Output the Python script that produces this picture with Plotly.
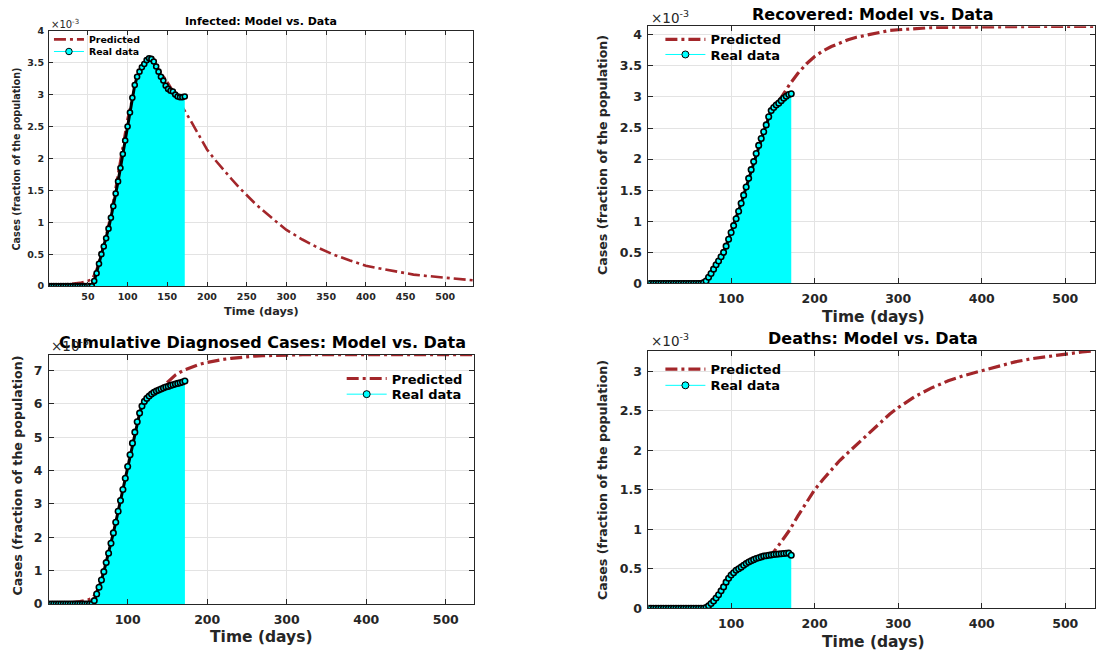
import plotly.graph_objects as go

W, H = 1096, 661
FONT = "DejaVu Sans"
RED = "#A3262A"
CYAN = "#00FFFF"
AX = "#262626"
GRID = "#E3E3E3"

# ---------------- data (values in units of 1e-3 of the population) ----------------
data_days = [1, 4, 7, 10, 13, 16, 19, 22, 25, 28, 31, 34, 37, 40, 43, 46, 49, 52, 55,
             58, 61, 64, 67, 70, 73, 76, 79, 82, 85, 88, 91, 94, 97, 100, 103, 106, 109,
             112, 115, 118, 121, 124, 127, 130, 133, 136, 139, 142, 145, 148, 151, 154,
             157, 160, 163, 166, 169, 172]

pred_days = [1, 10, 20, 30, 40, 50, 55, 60, 70, 80, 90, 100, 110, 120, 130, 140, 150,
             160, 170, 180, 190, 200, 210, 220, 230, 240, 250, 260, 270, 280, 290, 300,
             320, 340, 360, 380, 400, 420, 440, 460, 480, 500, 520, 535]

infected_real = [0, 0, 0, 0, 0, 0, 0, 0, 0, 0, 0, 0, 0, 0, 0, 0, 0, 0, 0,
                 0.08, 0.2, 0.35, 0.5, 0.62, 0.75, 0.9, 1.07, 1.25, 1.45, 1.64, 1.85, 2.07,
                 2.28, 2.5, 2.72, 2.95, 3.15, 3.28, 3.36, 3.43, 3.48, 3.54, 3.57, 3.56,
                 3.52, 3.44, 3.36, 3.28, 3.22, 3.14, 3.09, 3.06, 3.05, 3.0, 2.97, 2.96,
                 2.96, 2.97]
infected_pred = [0.0, 0.01, 0.02, 0.03, 0.05, 0.08, 0.11, 0.22, 0.62, 1.18, 1.88, 2.62,
                 3.15, 3.45, 3.52, 3.38, 3.2, 3.0, 2.8, 2.58, 2.36, 2.14, 1.98, 1.83,
                 1.69, 1.55, 1.42, 1.3, 1.19, 1.08, 0.98, 0.88, 0.73, 0.6, 0.49, 0.4,
                 0.32, 0.27, 0.22, 0.18, 0.155, 0.13, 0.11, 0.09]

recovered_real = [0, 0, 0, 0, 0, 0, 0, 0, 0, 0, 0, 0, 0, 0, 0, 0, 0, 0, 0, 0, 0, 0,
                  0.01, 0.04, 0.1, 0.16, 0.23, 0.3, 0.36, 0.43, 0.5, 0.6, 0.71, 0.82,
                  0.93, 1.04, 1.16, 1.29, 1.42, 1.55, 1.69, 1.83, 1.96, 2.09, 2.22, 2.33,
                  2.44, 2.55, 2.68, 2.78, 2.83, 2.87, 2.9, 2.94, 2.98, 3.01, 3.04, 3.05]
recovered_pred = [0.0, 0.0, 0.0, 0.0, 0.0, 0.005, 0.01, 0.02, 0.05, 0.2, 0.42, 0.75,
                  1.12, 1.55, 2.0, 2.42, 2.78, 3.0, 3.2, 3.38, 3.53, 3.65, 3.74, 3.81,
                  3.87, 3.92, 3.96, 3.99, 4.02, 4.05, 4.07, 4.08, 4.1, 4.115, 4.12, 4.125,
                  4.128, 4.13, 4.132, 4.133, 4.134, 4.135, 4.135, 4.136]

cumulative_real = [0, 0, 0, 0, 0, 0, 0, 0, 0, 0, 0, 0, 0, 0, 0, 0, 0, 0, 0,
                   0.1, 0.3, 0.5, 0.72, 0.97, 1.24, 1.52, 1.82, 2.13, 2.45, 2.78, 3.1,
                   3.43, 3.77, 4.12, 4.47, 4.82, 5.15, 5.46, 5.72, 5.93, 6.07, 6.16, 6.23,
                   6.29, 6.34, 6.38, 6.41, 6.44, 6.47, 6.5, 6.52, 6.55, 6.57, 6.59, 6.61,
                   6.63, 6.65, 6.68]
cumulative_pred = [0.0, 0.01, 0.02, 0.04, 0.07, 0.12, 0.17, 0.3, 0.9, 1.8, 2.9, 4.0,
                   5.0, 5.75, 6.2, 6.43, 6.65, 6.86, 7.0, 7.1, 7.18, 7.24, 7.29, 7.33,
                   7.36, 7.39, 7.41, 7.43, 7.44, 7.45, 7.46, 7.465, 7.47, 7.47, 7.47,
                   7.47, 7.47, 7.47, 7.47, 7.47, 7.47, 7.47, 7.47, 7.47]

deaths_real = [0, 0, 0, 0, 0, 0, 0, 0, 0, 0, 0, 0, 0, 0, 0, 0, 0, 0, 0, 0, 0, 0, 0,
               0.01, 0.03, 0.06, 0.09, 0.13, 0.17, 0.22, 0.27, 0.33, 0.38, 0.42, 0.45,
               0.48, 0.5, 0.52, 0.545, 0.565, 0.585, 0.6, 0.615, 0.63, 0.64, 0.65, 0.66,
               0.665, 0.67, 0.675, 0.68, 0.683, 0.686, 0.69, 0.693, 0.696, 0.698, 0.67]
deaths_pred = [0.0, 0.0, 0.0, 0.0, 0.0, 0.0, 0.002, 0.005, 0.02, 0.05, 0.1, 0.17, 0.26,
               0.36, 0.47, 0.58, 0.7, 0.84, 0.99, 1.17, 1.34, 1.5, 1.63, 1.75, 1.87,
               1.97, 2.07, 2.17, 2.27, 2.37, 2.46, 2.54, 2.68, 2.79, 2.88, 2.95, 3.01,
               3.07, 3.12, 3.16, 3.19, 3.22, 3.245, 3.26]

titles = ["Infected: Model vs. Data", "Recovered: Model vs. Data",
          "Cumulative Diagnosed Cases: Model vs. Data", "Deaths: Model vs. Data"]
x_label = "Time (days)"
y_label = "Cases (fraction of the population)"
legend_names = ["Predicted", "Real data"]

# ---------------- layout geometry (pixels) ----------------
panels = [
    dict(real=infected_real, pred=infected_pred, xpx=(49, 473.5), ypx=(25.3, 285.7),
         ymax=4.0, ydt=0.5, xdt=50, small=True,
         title_xy=(261.5, 15.7), xl_xy=(261.5, 311.7), yl_xy=(16.5, 156),
         exp_xy=(49, 18), leg=(49, 34, 46.4)),
    dict(real=recovered_real, pred=recovered_pred, xpx=(649, 1095.5), ypx=(20.7, 283),
         ymax=4.136, ydt=0.5, xdt=100, small=False,
         title_xy=(873.5, 8.5), xl_xy=(874, 317.7), yl_xy=(603, 151.5),
         exp_xy=(650, 11), leg=(661, 34, 49.5)),
    dict(real=cumulative_real, pred=cumulative_pred, xpx=(49, 474), ypx=(355.7, 610),
         ymax=7.47, ydt=1, xdt=100, small=False,
         title_xy=(262.5, 343.3), xl_xy=(261.7, 644), yl_xy=(18, 479),
         exp_xy=(49, 346), leg=(342, 380, 396)),
    dict(real=deaths_real, pred=deaths_pred, xpx=(649, 1095.5), ypx=(351.7, 614.3),
         ymax=3.26, ydt=0.5, xdt=100, small=False,
         title_xy=(873.9, 339), xl_xy=(873.8, 648.3), yl_xy=(603, 483),
         exp_xy=(650, 341), leg=(661, 370.5, 387)),
]

fig = go.Figure()
annotations = []

def fx(px):
    return px / W

def fy(py):
    return 1 - py / H

layout_axes = {}
for i, p in enumerate(panels):
    n = "" if i == 0 else str(i + 1)
    xa, ya = "x" + n, "y" + n
    small = p["small"]
    tick_fs = 9.5 if small else 12.5
    lw = 2.6 if small else 3.2
    ms = 5 if small else 5.5
    leg_a = "legend" if i == 0 else "legend" + str(2 * i + 1)
    leg_b = "legend" + str(2 * i + 2)

    fig.add_trace(go.Scatter(x=pred_days, y=p["pred"], mode="lines", name=legend_names[0],
                             line=dict(color=RED, width=lw, dash="12px,4px,3px,4px"),
                             xaxis=xa, yaxis=ya, legend=leg_a))
    fig.add_trace(go.Scatter(x=data_days, y=p["real"], mode="lines", fill="tozeroy",
                             fillcolor=CYAN, line=dict(color=CYAN, width=0.5),
                             showlegend=False, hoverinfo="skip", xaxis=xa, yaxis=ya))
    fig.add_trace(go.Scatter(x=data_days, y=p["real"], mode="lines+markers",
                             line=dict(color="black", width=3),
                             marker=dict(symbol="circle", size=ms, color=CYAN,
                                         line=dict(color="black", width=1.6)),
                             showlegend=False, xaxis=xa, yaxis=ya))
    fig.add_trace(go.Scatter(x=[None], y=[None], mode="lines+markers", name=legend_names[1],
                             line=dict(color=CYAN, width=1),
                             marker=dict(symbol="circle", size=ms + 1.5, color=CYAN,
                                         line=dict(color="black", width=1)),
                             xaxis=xa, yaxis=ya, legend=leg_b))

    axis_common = dict(showline=True, linecolor=AX, linewidth=1, mirror="ticks",
                       ticks="inside", ticklen=4 if small else 5, tickcolor=AX,
                       showgrid=True, gridcolor=GRID, gridwidth=1, zeroline=False,
                       tickfont=dict(family=FONT, size=tick_fs, color=AX, weight="bold"))
    layout_axes["xaxis" + n] = dict(axis_common, domain=[fx(p["xpx"][0]), fx(p["xpx"][1])],
                                    range=[1, 535], tick0=0, dtick=p["xdt"], anchor=ya,
                                    ticklabelstandoff=2 if small else 4)
    layout_axes["yaxis" + n] = dict(axis_common, domain=[fy(p["ypx"][1]), fy(p["ypx"][0])],
                                    range=[0, p["ymax"]], tick0=0, dtick=p["ydt"], anchor=xa,
                                    ticklabelstandoff=2 if small else 3)

    title_fs = 11 if small else 16
    xl_fs = 11.3 if small else 15.5
    yl_fs = 9.6 if small else 12.6
    leg_fs = 9.4 if small else 13
    exp_fs = 10 if small else 13.5
    bold = dict(family=FONT, color="black", weight="bold")
    annotations.append(dict(text=titles[i], x=fx(p["title_xy"][0]), y=fy(p["title_xy"][1]),
                            xref="paper", yref="paper", xanchor="center", yanchor="middle",
                            showarrow=False, font=dict(bold, size=title_fs)))
    annotations.append(dict(text=x_label, x=fx(p["xl_xy"][0]), y=fy(p["xl_xy"][1]),
                            xref="paper", yref="paper", xanchor="center", yanchor="middle",
                            showarrow=False, font=dict(bold, size=xl_fs, color=AX)))
    annotations.append(dict(text=y_label, x=fx(p["yl_xy"][0]), y=fy(p["yl_xy"][1]),
                            xref="paper", yref="paper", xanchor="center", yanchor="middle",
                            textangle=-90, showarrow=False,
                            font=dict(bold, size=yl_fs, color=AX)))
    annotations.append(dict(text="×10<sup>-3</sup>", x=fx(p["exp_xy"][0]), y=fy(p["exp_xy"][1]),
                            xref="paper", yref="paper", xanchor="left", yanchor="middle",
                            showarrow=False, font=dict(family=FONT, size=exp_fs, color=AX)))

    leg_common = dict(xanchor="left", yanchor="middle", bgcolor="rgba(0,0,0,0)",
                      borderwidth=0, itemwidth=30 if small else 40,
                      font=dict(family=FONT, size=leg_fs, color="black", weight="bold"))
    lx, ly1, ly2 = p["leg"]
    layout_axes[leg_a] = dict(leg_common, x=fx(lx), y=fy(ly1))
    layout_axes[leg_b] = dict(leg_common, x=fx(lx), y=fy(ly2))

fig.update_layout(width=W, height=H, margin=dict(l=0, r=0, t=0, b=0),
                  paper_bgcolor="white", plot_bgcolor="white",
                  annotations=annotations, **layout_axes)

fig.write_html("out.html")
